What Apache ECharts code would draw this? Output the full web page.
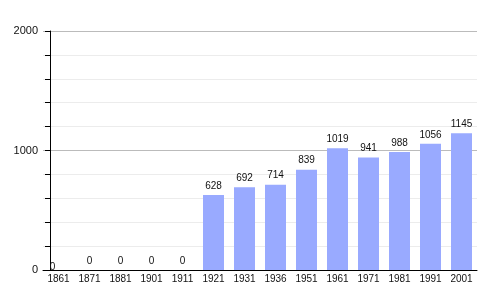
<!DOCTYPE html>
<html><head><meta charset="utf-8">
<script src="https://cdn.jsdelivr.net/npm/echarts@6/dist/echarts.min.js"></script>
<style>html,body{margin:0;padding:0;background:#fff}#c{width:500px;height:300px}</style>
</head><body><div id="c"></div>
<script>
var categories = ['1861','1871','1881','1901','1911','1921','1931','1936','1951','1961','1971','1981','1991','2001'];
var population = [0,0,0,0,0,628,692,714,839,1019,941,988,1056,1145];
var yTicks = [0,1000,2000];

var chart = echarts.init(document.getElementById('c'), null, {renderer:'canvas'});
var data = population.map(function(v,i){
  var d = {value:v};
  if(i===0){ d.label = {offset:[-6,6]}; }
  return d;
});
chart.setOption({
  animation:false,
  grid:{left:43, right:23, top:31, bottom:30},
  textStyle:{fontFamily:'Liberation Sans, Arial, sans-serif'},
  xAxis:{
    type:'category', data:categories,
    axisLine:{lineStyle:{color:'#000', width:1}},
    axisTick:{show:false},
    axisLabel:{color:'#111', fontSize:10, margin:4}
  },
  yAxis:{
    type:'value', min:0, max:2000, interval:200,
    offset:-7,
    axisLine:{show:true, lineStyle:{color:'#000', width:1}},
    axisTick:{show:true, length:5, lineStyle:{color:'#000'}},
    axisLabel:{color:'#111', fontSize:11, margin:12,
      formatter:function(v){ return yTicks.indexOf(v)>=0 ? String(v) : ''; }},
    splitLine:{show:true, lineStyle:{color:['#bbbbbb','#ececec','#ececec','#ececec','#ececec'], width:1}}
  },
  series:[{
    type:'bar', data:data, barWidth:21,
    itemStyle:{color:'#99aaff'},
    label:{show:true, position:'top', color:'#111', fontSize:10, distance:4}
  }]
});
</script></body></html>
